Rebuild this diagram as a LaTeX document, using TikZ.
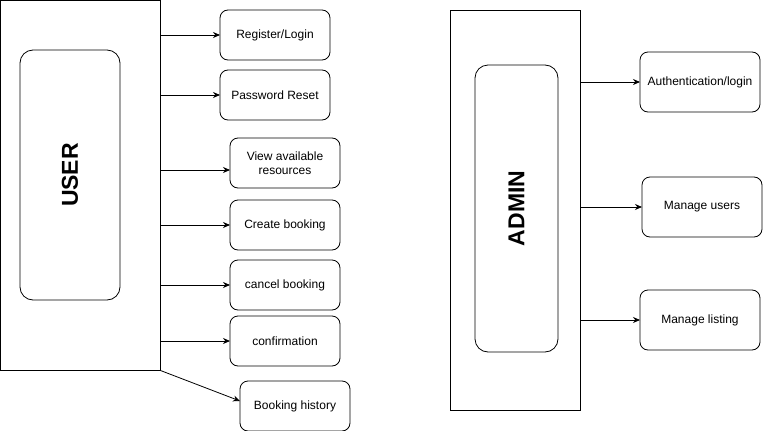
\documentclass[tikz,border=0pt]{standalone}
\usepackage{fontspec}
\setmainfont{Liberation Sans}
\usetikzlibrary{positioning,arrows.meta}
\begin{document}
\begin{tikzpicture}[x=1pt,y=-1pt,->,>={Stealth[length=7pt,width=6pt]},line width=0.8pt]
  \tikzstyle{frame}=[draw,anchor=north west,inner sep=0pt,outer sep=0pt]
  \tikzstyle{lane}=[draw,rounded corners=13pt,anchor=north west,inner sep=0pt,outer sep=0pt]
  \tikzstyle{role}=[rotate=90,font=\bfseries\fontsize{23}{26}\selectfont]
  \tikzstyle{task}=[draw,rounded corners=8pt,anchor=north west,minimum width=110pt,minimum height=50pt,align=center,inner sep=2pt,outer sep=0pt,font=\fontsize{12}{14.5}\selectfont]
  \useasboundingbox (0,0) rectangle (763,431);

  % user side
  \node[frame,minimum width=160pt,minimum height=370pt] (user) at (0.5,0.5) {};
  \node[lane,minimum width=100pt,minimum height=250pt] (userlane) at (20,50) {};
  \node[role] (usertext) at (userlane.center) {USER};

  \node[task] (reg) at (220,10) {Register/Login};
  \node[task] (reset) at (220,70) {Password Reset};
  \node[task] (view) at (230,138) {View available\\resources};
  \node[task] (create) at (230,200) {Create booking};
  \node[task] (cancel) at (230,260) {cancel booking};
  \node[task] (confirm) at (230,316) {confirmation};
  \node[task] (history) at (240,381) {Booking history};

  \coordinate (viewin) at ([yshift=-7pt]view.west);
  \coordinate (historyin) at ([yshift=5pt]history.west);

  \draw (user.east |- reg.west) -- (reg.west);
  \draw (user.east |- reset.west) -- (reset.west);
  \draw (user.east |- viewin) -- (viewin);
  \draw (user.east |- create.west) -- (create.west);
  \draw (user.east |- cancel.west) -- (cancel.west);
  \draw (user.east |- confirm.west) -- (confirm.west);
  \draw (user.south east) -- (historyin);

  % admin side
  \node[frame,minimum width=130pt,minimum height=400pt] (admin) at (450,10) {};
  \node[lane,minimum width=83pt,minimum height=287pt] (adminlane) at (475,65) {};
  \node[role] (admintext) at (adminlane.center) {ADMIN};

  \node[task,minimum width=120pt,minimum height=60pt] (auth) at (640,52) {Authentication/login};
  \node[task,minimum width=120pt,minimum height=60pt] (users) at (642,177) {Manage users};
  \node[task,minimum width=120pt,minimum height=60pt] (listing) at (640,290) {Manage listing};

  \draw (admin.east |- auth.west) -- (auth.west);
  \draw (admin.east |- users.west) -- (users.west);
  \draw (admin.east |- listing.west) -- (listing.west);
\end{tikzpicture}
\end{document}
